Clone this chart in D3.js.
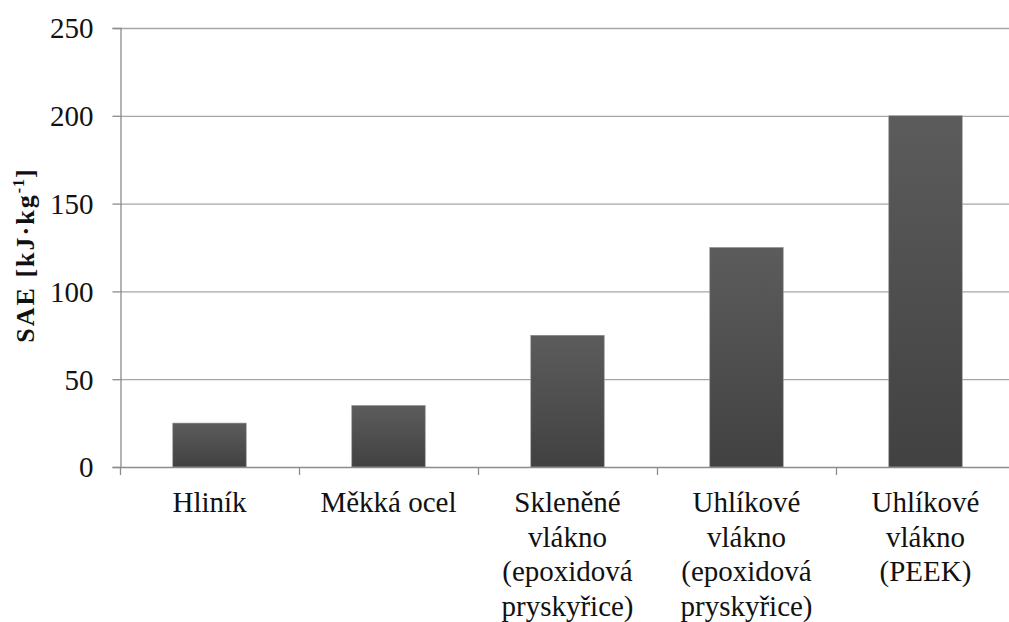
<!DOCTYPE html>
<html><head><meta charset="utf-8">
<script src="https://cdn.jsdelivr.net/npm/d3@7"></script>
<style>body{margin:0;background:#fff}svg{display:block}
svg text{font-family:"Liberation Serif","Times New Roman",Tinos,"DejaVu Serif",serif;}</style>
</head><body>
<svg id="c" width="1009" height="622"></svg>
<script>
const categories = [
  ["Hliník"],
  ["Měkká ocel"],
  ["Skleněné","vlákno","(epoxidová","pryskyřice)"],
  ["Uhlíkové","vlákno","(epoxidová","pryskyřice)"],
  ["Uhlíkové","vlákno","(PEEK)"]
];
const values = [25, 35, 75, 125, 200];
const yTicks = [0, 50, 100, 150, 200, 250];

(function(){
const svg = d3.select("#c");
const mLeft = 120, mRight = 1015, mTop = 28, mBottom = 467;

const x = d3.scaleBand().domain(d3.range(categories.length)).range([mLeft, mRight]).paddingInner(0.59).paddingOuter(0.295);
const y = d3.scaleLinear().domain([0, 250]).range([mBottom, mTop]);

const defs = svg.append("defs");
const g = defs.append("linearGradient").attr("id","bg").attr("x1",0).attr("y1",0).attr("x2",0).attr("y2",1);
g.append("stop").attr("offset","0%").attr("stop-color","#5c5c5c");
g.append("stop").attr("offset","100%").attr("stop-color","#414141");

svg.append("g").selectAll("line").data(yTicks.filter(d=>d>0)).join("line")
  .attr("x1", mLeft).attr("x2", 1009).attr("y1", d=>y(d)+0.5).attr("y2", d=>y(d)+0.5)
  .attr("stroke", "#a6a6a6").attr("stroke-width", 1.3);

svg.append("g").selectAll("rect").data(values).join("rect")
  .attr("x", (d,i)=>x(i)).attr("width", x.bandwidth())
  .attr("y", d=>y(d)).attr("height", d=>y(0)-y(d))
  .attr("fill", "url(#bg)").attr("stroke", "#8a8a8a").attr("stroke-width", 0.6);

const yAxis = d3.axisLeft(y).tickValues(yTicks).tickSize(8).tickPadding(19);
const ya = svg.append("g").attr("transform", `translate(${mLeft+0.5},0)`).call(yAxis);
ya.attr("font-family", null).attr("font-size", null);
ya.select(".domain").attr("stroke","#8c8c8c").attr("stroke-width",1.3);
ya.selectAll(".tick line").attr("stroke","#8c8c8c").attr("stroke-width",1.3);
ya.selectAll(".tick text").attr("font-size", 29).attr("fill","#111").attr("dy","0.34em");

const step = x.step();
const bounds = d3.range(categories.length+1).map(i => mLeft + i*step);
svg.append("line").attr("x1", mLeft).attr("x2", 1009).attr("y1", mBottom+0.5).attr("y2", mBottom+0.5)
  .attr("stroke","#8c8c8c").attr("stroke-width",1.3);
svg.append("g").selectAll("line").data(bounds.filter(b=>b<1009)).join("line")
  .attr("x1", d=>d+0.5).attr("x2", d=>d+0.5).attr("y1", mBottom).attr("y2", mBottom+8)
  .attr("stroke","#8c8c8c").attr("stroke-width",1.3);

const lab = svg.append("g").attr("font-size", 29).attr("fill","#111").attr("text-anchor","middle");
categories.forEach((lines, i) => {
  const cx = x(i) + x.bandwidth()/2;
  const t = lab.append("text").attr("x", cx).attr("y", 512);
  lines.forEach((ln, k) => t.append("tspan").attr("x", cx).attr("y", 512 + k*34.5).text(ln));
});

const yt = svg.append("text").attr("transform","translate(34,255) rotate(-90)")
  .attr("text-anchor","middle").attr("font-weight","bold").attr("font-size",26)
  .attr("letter-spacing", 2).attr("fill","#111");
yt.append("tspan").text("SAE [kJ·kg");
yt.append("tspan").attr("dy",-10).attr("font-size",16).attr("letter-spacing",1).text("-1");
yt.append("tspan").attr("dy",10).text("]");
})();
</script>
</body></html>
